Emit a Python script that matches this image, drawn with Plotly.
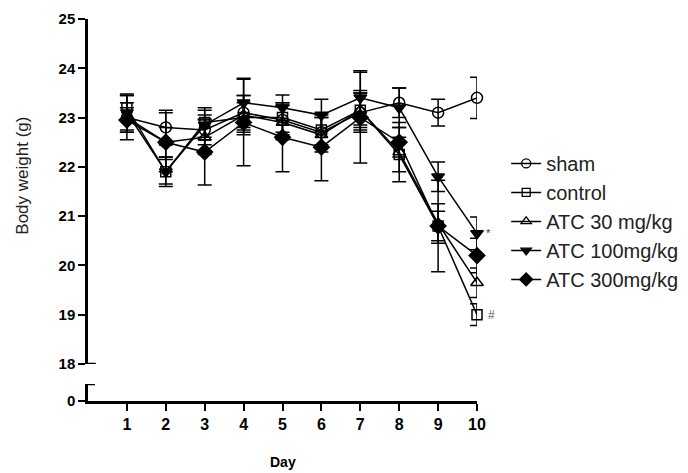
import plotly.graph_objects as go

days = [1, 2, 3, 4, 5, 6, 7, 8, 9, 10]
series_names = ["sham", "control", "ATC 30 mg/kg", "ATC 100mg/kg", "ATC 300mg/kg"]

sham = [23.0, 22.8, 22.75, 23.1, 22.95, 22.7, 23.1, 23.3, 23.1, 23.4]
control = [23.2, 21.9, 22.9, 23.0, 23.0, 22.75, 23.15, 22.25, 20.8, 19.0]
atc30 = [23.0, 22.5, 22.6, 23.05, 22.9, 22.65, 23.15, 22.3, 20.85, 19.65]
atc100 = [23.1, 21.9, 22.85, 23.3, 23.2, 23.05, 23.4, 23.2, 21.8, 20.65]
atc300 = [22.95, 22.5, 22.3, 22.9, 22.6, 22.4, 23.0, 22.5, 20.8, 20.2]

sham_err = [0.45, 0.35, 0.3, 0.35, 0.3, 0.3, 0.4, 0.3, 0.27, 0.42]
control_err = [0.28, 0.3, 0.3, 0.3, 0.3, 0.3, 0.35, 0.35, 0.3, 0.22]
atc30_err = [0.3, 0.3, 0.35, 0.4, 0.35, 0.35, 0.4, 0.6, 0.4, 0.3]
atc100_err = [0.35, 0.25, 0.3, 0.5, 0.26, 0.32, 0.55, 0.4, 0.3, 0.33]
atc300_err = [0.25, 0.6, 0.67, 0.88, 0.7, 0.68, 0.92, 0.3, 0.93, 0.35]

y_ticks_upper = [18, 19, 20, 21, 22, 23, 24, 25]
x_ticks = days

values = [sham, control, atc30, atc100, atc300]
errors = [sham_err, control_err, atc30_err, atc100_err, atc300_err]
symbols = ["circle-open", "square-open", "triangle-up-open", "triangle-down", "diamond"]
sizes = [11, 10, 11, 11, 12]
legend_sizes = [9, 8, 9, 9, 10]

FONT = "Liberation Sans, Arial, sans-serif"

fig = go.Figure()
for name, v, e, sym, sz in zip(series_names, values, errors, symbols, sizes):
    fig.add_trace(go.Scatter(
        x=days, y=v, name=name, mode="lines+markers", showlegend=False,
        line=dict(color="black", width=1.5),
        marker=dict(symbol=sym, size=sz, color="black",
                    line=dict(color="black", width=1.5)),
        error_y=dict(type="data", array=e, visible=True, color="black",
                     thickness=1.5, width=7),
        cliponaxis=False, xaxis="x", yaxis="y",
    ))
# legend entries (smaller symbols, as in the reference legend)
for name, sym, sz in zip(series_names, symbols, legend_sizes):
    fig.add_trace(go.Scatter(
        x=[None], y=[None], name=name, mode="lines+markers",
        line=dict(color="black", width=1.5),
        marker=dict(symbol=sym, size=sz, color="black",
                    line=dict(color="black", width=1.3)),
        xaxis="x", yaxis="y",
    ))

# significance marks
fig.add_annotation(x=10, y=atc100[-1], text="*", showarrow=False, xshift=11,
                   font=dict(family=FONT, size=11, color="#333"), xref="x", yref="y")
fig.add_annotation(x=10, y=control[-1], text="#", showarrow=False, xshift=14,
                   font=dict(family=FONT, size=12, color="#555"), xref="x", yref="y")

# axis break caps
fig.add_shape(type="line", xref="x", yref="y", x0=0, x1=0.2, y0=18, y1=18,
              line=dict(color="black", width=2.5))
fig.add_shape(type="line", xref="x", yref="y2", x0=-0.1, x1=0.18, y0=1, y1=1,
              line=dict(color="black", width=2.5))

# axis titles
fig.add_annotation(xref="paper", yref="paper", x=-0.2, y=0.589, text="Body weight (g)",
                   textangle=-90, showarrow=False,
                   font=dict(family=FONT, size=17, color="#222"))
fig.add_annotation(xref="paper", yref="paper", x=0.5, y=-0.185, text="<b>Day</b>",
                   showarrow=False, font=dict(family=FONT, size=14, color="black"))

fig.update_layout(
    width=688, height=473,
    margin=dict(l=88, r=211, t=19, b=72, autoexpand=False),
    plot_bgcolor="white", paper_bgcolor="white",
    font=dict(family=FONT, color="black"),
    showlegend=True,
    legend=dict(x=1.075, y=0.673, xanchor="left", yanchor="top",
                font=dict(family=FONT, size=20, color="#222"),
                bgcolor="rgba(0,0,0,0)", tracegroupgap=0),
    xaxis=dict(domain=[0, 1], range=[0, 10], anchor="y2",
               tickvals=x_ticks, ticktext=[str(d) for d in x_ticks],
               ticks="outside", ticklen=7, tickwidth=2, tickcolor="black",
               showline=True, linecolor="black", linewidth=2.5,
               showgrid=False, zeroline=False,
               tickfont=dict(family=FONT, size=16, color="black", weight="bold")),
    yaxis=dict(domain=[0.0969, 1], range=[18, 25], anchor="x",
               tickvals=y_ticks_upper, ticktext=[str(t) for t in y_ticks_upper],
               ticks="outside", ticklen=7, tickwidth=2, tickcolor="black",
               showline=True, linecolor="black", linewidth=2.5,
               showgrid=False, zeroline=False,
               tickfont=dict(family=FONT, size=15, color="black", weight="bold")),
    yaxis2=dict(domain=[0, 0.0445], range=[0, 1], anchor="x",
                tickvals=[0], ticktext=["0"],
                ticks="outside", ticklen=7, tickwidth=2, tickcolor="black",
                showline=True, linecolor="black", linewidth=2.5,
                showgrid=False, zeroline=False,
                tickfont=dict(family=FONT, size=15, color="black", weight="bold")),
)

fig.write_html("out.html")
